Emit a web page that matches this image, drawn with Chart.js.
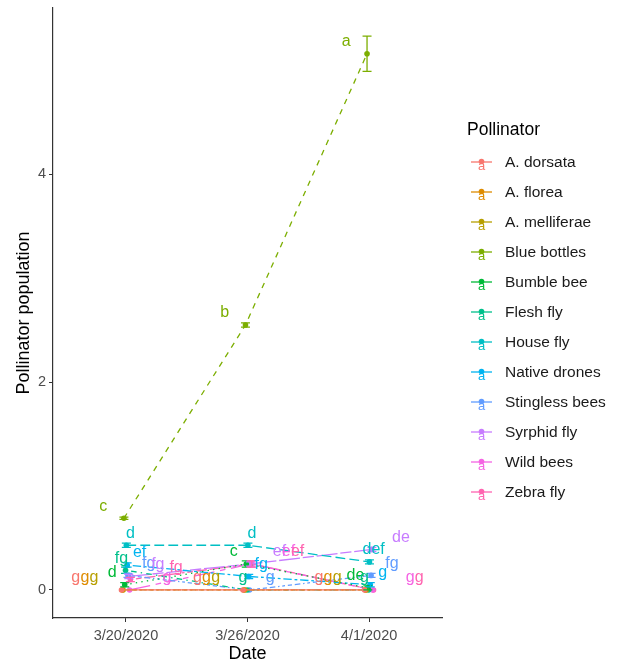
<!DOCTYPE html>
<html>
<head>
<meta charset="utf-8">
<script src="https://cdn.jsdelivr.net/npm/chart.js@4.4.1/dist/chart.umd.min.js"></script>
<style>
  html, body { margin: 0; background: #fff; }
  #wrap { width: 621px; height: 663px; }
</style>
</head>
<body>
<div id="wrap"><canvas id="chart"></canvas></div>
<script>
// data
const dates = ['3/20/2020', '3/26/2020', '4/1/2020']
const pollinators = ['A. dorsata', 'A. florea', 'A. melliferae', 'Blue bottles', 'Bumble bee', 'Flesh fly',
    'House fly', 'Native drones', 'Stingless bees', 'Syrphid fly', 'Wild bees', 'Zebra fly']

const mean0320 = [0, 0, 0, 0.69, 0.05, 0.19, 0.43, 0.24, 0.14, 0.13, 0, 0.10]
const mean0326 = [0, 0, 0, 2.55, 0.25, 0, 0.43, 0.13, 0, 0.25, 0.25, 0.25]
const mean0401 = [0, 0, 0, 5.16, 0.02, 0, 0.27, 0.05, 0.14, 0.39, 0, 0]

const se0320 = [0, 0, 0, 0.01, 0.02, 0.03, 0.02, 0.02, 0.02, 0.02, 0, 0.02]
const se0326 = [0, 0, 0, 0.02, 0.03, 0, 0.02, 0.02, 0, 0.02, 0.03, 0.03]
const se0401 = [0, 0, 0, 0.17, 0.02, 0, 0.02, 0.02, 0.02, 0.02, 0, 0]

const letters0320 = ['g', 'g', 'g', 'c', 'd', 'fg', 'd', 'ef', 'fg', 'fg', 'g', 'fg']
const letters0326 = ['g', 'g', 'g', 'b', 'c', 'g', 'd', 'fg', 'g', 'ef', 'ef', 'ef']
const letters0401 = ['g', 'g', 'g', 'a', 'de', 'g', 'def', 'g', 'fg', 'de', 'g', 'g']

const yTicks = [0, 2, 4]

// styling
const colors = ['#F8766D', '#DE8C00', '#B79F00', '#7CAE00', '#00BA38', '#00C08B',
    '#00BFC4', '#00B4F0', '#619CFF', '#C77CFF', '#F564E3', '#FF64B0']
const dashes = [[], [2, 2], [4, 2], [4, 4], [1, 3], [1, 3, 4, 3], [7, 3], [2, 2, 6, 2],
    [1, 2, 2, 2, 3, 2, 4, 2], [15, 2, 8, 2], [15, 4, 4, 4, 8, 4, 4, 4], [2, 2, 4, 2, 8, 2, 15, 2]]
const FONT = "'Liberation Sans', Arial, sans-serif"

const means = [mean0320, mean0326, mean0401]
const ses = [se0320, se0326, se0401]
const letters = [letters0320, letters0326, letters0401]
const n = pollinators.length

// ggplot-like dodge
const dodge = (j, width) => -width / 2 + width * (j + 0.5) / n

const datasets = pollinators.map((name, j) => ({
    label: name,
    data: dates.map((d, i) => ({ x: i + 1 + dodge(j, 0.08), y: means[i][j] })),
    borderColor: colors[j],
    backgroundColor: colors[j],
    borderWidth: 1.3,
    borderDash: dashes[j].map(v => v * 1.4),
    pointRadius: 2.8,
    pointBorderWidth: 0,
    tension: 0
}))

const extras = {
    id: 'extras',
    afterDatasetsDraw(chart) {
        const { ctx, scales: { x, y } } = chart
        ctx.save()
        // error bars
        pollinators.forEach((name, j) => {
            dates.forEach((d, i) => {
                const se = ses[i][j]
                if (!se) return
                const px = x.getPixelForValue(i + 1 + dodge(j, 0.08))
                const top = y.getPixelForValue(means[i][j] + se)
                const bot = y.getPixelForValue(means[i][j] - se)
                ctx.strokeStyle = colors[j]
                ctx.lineWidth = 1.3
                ctx.setLineDash([])
                ctx.beginPath()
                ctx.moveTo(px, top); ctx.lineTo(px, bot)
                ctx.moveTo(px - 4.5, top); ctx.lineTo(px + 4.5, top)
                ctx.moveTo(px - 4.5, bot); ctx.lineTo(px + 4.5, bot)
                ctx.stroke()
            })
        })
        // letters
        ctx.font = '16px ' + FONT
        ctx.textAlign = 'center'
        ctx.textBaseline = 'middle'
        pollinators.forEach((name, j) => {
            dates.forEach((d, i) => {
                ctx.fillStyle = colors[j]
                ctx.fillText(letters[i][j], x.getPixelForValue(i + 1 + dodge(j, 0.9)),
                    y.getPixelForValue(means[i][j]) - 12)
            })
        })
        ctx.restore()
    },
    afterDraw(chart) {
        const { ctx } = chart
        ctx.save()
        ctx.textBaseline = 'middle'
        ctx.textAlign = 'left'
        ctx.fillStyle = '#000'
        ctx.font = '17.5px ' + FONT
        ctx.fillText('Pollinator', 467, 130)
        pollinators.forEach((name, j) => {
            const cy = 163 + 30 * j
            ctx.strokeStyle = colors[j]
            ctx.lineWidth = 1.3
            ctx.beginPath()
            ctx.moveTo(471, cy - 1); ctx.lineTo(492, cy - 1)
            ctx.stroke()
            ctx.fillStyle = colors[j]
            ctx.beginPath()
            ctx.arc(481.5, cy - 1.5, 2.8, 0, Math.PI * 2)
            ctx.fill()
            ctx.font = '13px ' + FONT
            ctx.textAlign = 'center'
            ctx.fillText('a', 481.5, cy + 3)
            ctx.textAlign = 'left'
            ctx.fillStyle = '#1a1a1a'
            ctx.font = '15.5px ' + FONT
            ctx.fillText(name, 505, cy)
        })
        ctx.restore()
    }
}

new Chart(document.getElementById('chart'), {
    type: 'line',
    data: { datasets },
    plugins: [extras],
    options: {
        responsive: true,
        maintainAspectRatio: false,
        animation: false,
        layout: { padding: { left: 0, top: 8, right: 179, bottom: 0 } },
        plugins: { legend: { display: false }, tooltip: { enabled: false } },
        scales: {
            x: {
                type: 'linear',
                min: 0.4,
                max: 3.6,
                afterBuildTicks: s => { s.ticks = dates.map((d, i) => ({ value: i + 1 })) },
                afterFit: s => { s.height = 45; s.paddingLeft = 0; s.paddingRight = 0 },
                ticks: {
                    callback: v => dates[v - 1],
                    color: '#4d4d4d',
                    font: { family: FONT, size: 14.5 },
                    padding: 5,
                    maxRotation: 0
                },
                grid: { drawOnChartArea: false, drawTicks: true, tickLength: 4, color: '#333' },
                border: { display: true, color: '#333', width: 1.2 },
                title: { display: true, text: 'Date', color: '#000', font: { family: FONT, size: 18, lineHeight: 1 }, padding: 0 }
            },
            y: {
                type: 'linear',
                min: -0.27,
                max: 5.6,
                afterBuildTicks: s => { s.ticks = yTicks.map(v => ({ value: v })) },
                afterFit: s => { s.width = 53; s.paddingTop = 0; s.paddingBottom = 0 },
                ticks: {
                    color: '#4d4d4d',
                    font: { family: FONT, size: 14.5 },
                    padding: 3
                },
                grid: { drawOnChartArea: false, drawTicks: true, tickLength: 4, color: '#333' },
                border: { display: true, color: '#333', width: 1.2 },
                title: { display: true, text: 'Pollinator population', color: '#000', font: { family: FONT, size: 18, lineHeight: 1 }, padding: { top: 15, bottom: 0 } }
            }
        }
    }
})
</script>
</body>
</html>
